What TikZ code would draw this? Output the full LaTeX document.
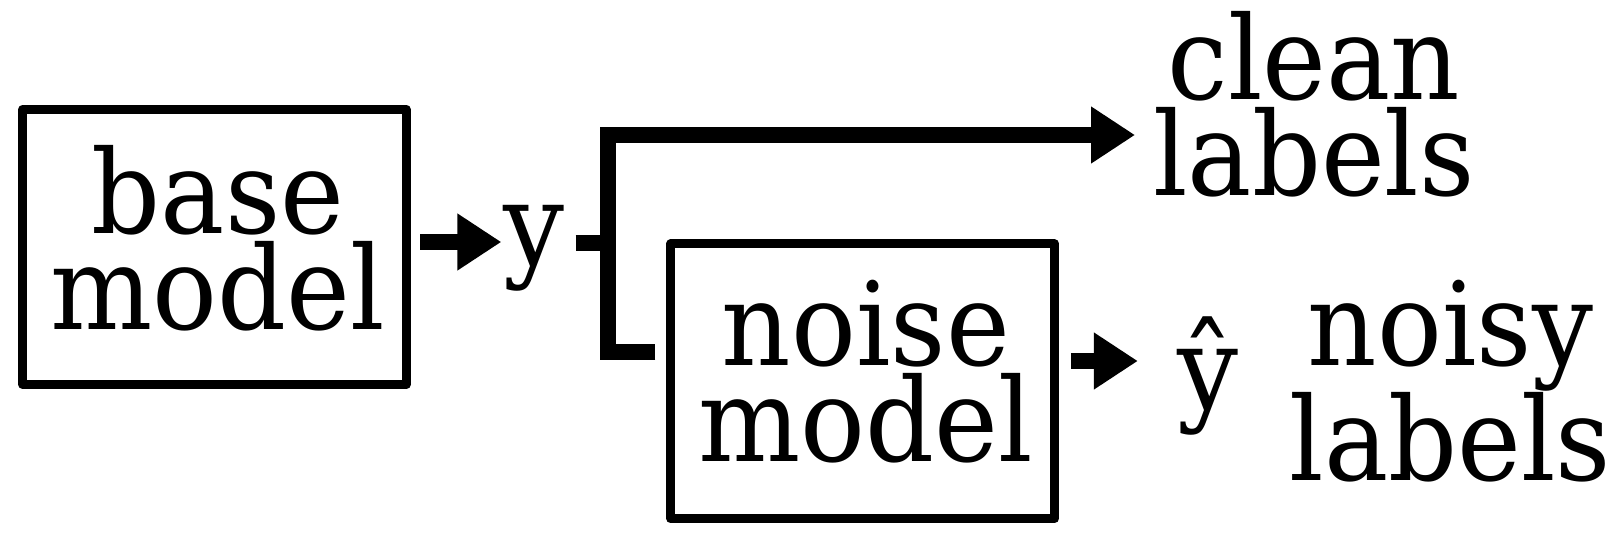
\documentclass[tikz,border=0pt]{standalone}
\usepackage{fontspec}
\setmainfont{DejaVu Serif}[FakeStretch=0.93]
\usetikzlibrary{arrows.meta}
\begin{document}
\begin{tikzpicture}[x=1pt,y=-1pt,
  box/.style={draw, line width=9pt, line join=round, minimum width=383.5pt, minimum height=275pt, inner sep=0pt},
  lbl/.style={font=\fontsize{116}{96}\selectfont, align=center, inner sep=0pt},
  arr/.style={line width=16.5pt, -{Triangle[length=44pt,width=54pt]}},
  conn/.style={line width=16.5pt}]
\useasboundingbox (0,0) rectangle (1622,543);
% boxes
\node[box] (base) at (214.5,247) {};
\node[lbl] (basetxt) at (218,238.7) {base\\model};
\node[box] (noise) at (862.7,381.3) {};
\node[lbl] (noisetxt) at (866,371.7) {noise\\model};
% labels
\node[lbl, anchor=base] (y) at (534,265) {y};
\node[lbl, anchor=base] (yh) at (1207.5,409) {ŷ};
\node[lbl] (clean) at (1314,104.7) {clean\\labels};
\node[lbl, font=\fontsize{116}{100}\selectfont] (noisy) at (1450.5,380.7) {noisy\\labels};
% junction coordinates
\coordinate (j) at (608,243);
\coordinate (jt) at (608,135);
\coordinate (jb) at (608,352);
\coordinate (a1s) at ([shift={(9.3,-5)}]base.east);
\coordinate (a2s) at ([shift={(11.8,-20.3)}]noise.east);
% connectors
\draw[arr] (a1s) -- ([xshift=-2pt]y.west |- a1s);
\draw[conn] ([xshift=11pt]y.east |- j) -- (j);
\draw[arr] ([xshift=-11pt]noise.west |- jb) -- (jb) -- (jt) -- ([xshift=-18pt]clean.west |- jt);
\draw[arr] (a2s) -- ([xshift=-39pt]yh.west |- a2s);
\end{tikzpicture}
\end{document}
